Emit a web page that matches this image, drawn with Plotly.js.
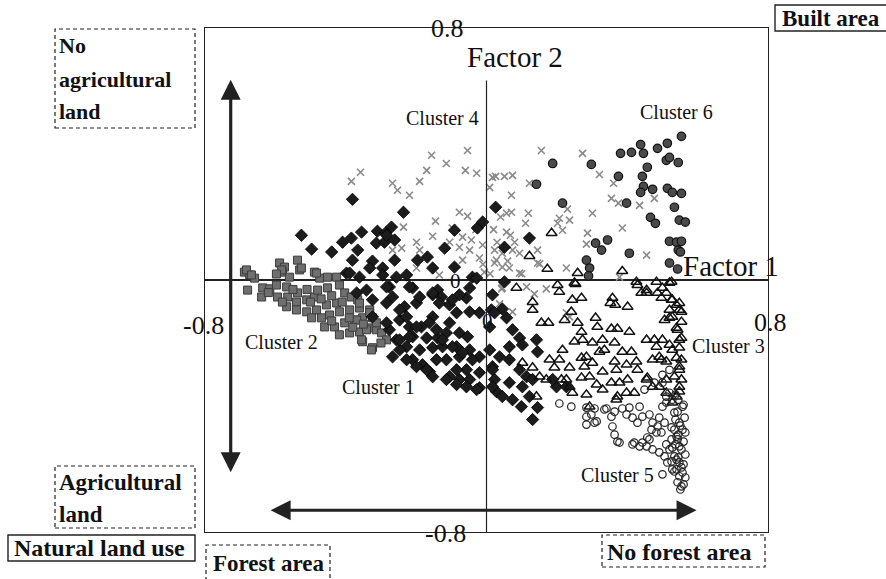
<!DOCTYPE html>
<html>
<head>
<meta charset="utf-8">
<script src="https://cdn.plot.ly/plotly-3.0.1.min.js"></script>
<style>html,body{margin:0;padding:0;background:#fff;}#chart{width:886px;height:579px;}</style>
</head>
<body>
<div id="chart"></div>
<script>
// ---- data (factor 1, factor 2) ----
const cluster1 = [[-0.381,0.256],[-0.236,0.215],[-0.526,0.142],[-0.497,0.098],[-0.44,0.089],[-0.355,0.152],[-0.31,0.155],[-0.27,0.168],[-0.287,0.149],[-0.409,0.12],[-0.384,0.133],[-0.366,0.095],[-0.313,0.117],[-0.29,0.12],[-0.261,0.127],[-0.381,0.063],[-0.324,0.06],[-0.261,0.063],[-0.227,0.016],[-0.196,0.063],[-0.168,0.073],[-0.153,0.038],[-0.119,0.101],[-0.091,0.158],[-0.026,0.165],[-0.011,0.184],[0.026,0.231],[-0.398,0.022],[-0.361,0.009],[-0.332,0.038],[-0.295,0.038],[-0.091,0.041],[-0.04,0.009],[0.122,0.133],[0.051,0.104],[-0.284,0.142],[-0.028,0.006],[-0.295,0.016],[-0.256,0.009],[-0.21,-0.025],[-0.139,-0.032],[-0.128,-0.054],[-0.153,-0.047],[-0.276,-0.022],[-0.267,-0.054],[-0.233,-0.085],[-0.199,-0.073],[-0.105,-0.079],[-0.048,-0.025],[-0.057,-0.057],[-0.077,-0.047],[-0.02,-0.104],[-0.048,-0.101],[-0.085,-0.104],[-0.153,-0.117],[-0.105,-0.136],[-0.185,-0.149],[-0.219,-0.149],[-0.247,-0.127],[-0.21,-0.18],[-0.17,-0.184],[-0.139,-0.184],[-0.114,-0.168],[-0.077,-0.168],[-0.054,-0.18],[-0.276,-0.158],[-0.256,-0.19],[-0.227,-0.212],[-0.19,-0.222],[-0.153,-0.215],[-0.125,-0.212],[-0.085,-0.212],[-0.048,-0.222],[-0.02,-0.244],[-0.114,-0.253],[-0.077,-0.244],[-0.142,-0.253],[-0.182,-0.269],[-0.21,-0.253],[-0.162,-0.291],[-0.105,-0.307],[-0.077,-0.316],[-0.048,-0.316],[-0.02,-0.342],[-0.02,-0.294],[-0.057,-0.285],[-0.085,-0.285],[0.017,-0.275],[0.023,-0.316],[0.028,-0.354],[0.009,-0.222],[0.009,-0.149],[0.014,-0.095],[0.017,-0.047],[0.051,-0.006],[-0.267,-0.244],[-0.247,-0.222],[-0.227,-0.253],[-0.199,-0.275],[-0.17,-0.285],[-0.153,-0.307],[-0.114,-0.316],[-0.085,-0.332],[-0.057,-0.339],[-0.028,-0.348],[-0.247,-0.19],[-0.219,-0.18],[-0.199,-0.149],[-0.162,-0.136],[-0.142,-0.158],[-0.125,-0.19],[-0.097,-0.212],[-0.068,-0.231],[-0.04,-0.253],[-0.284,-0.136],[-0.324,-0.117],[-0.324,-0.063],[-0.284,-0.073],[-0.369,-0.041],[-0.341,-0.032],[-0.389,0.022],[-0.284,-0.022],[-0.219,-0.022],[-0.19,-0.054],[-0.153,-0.041],[-0.134,-0.073],[-0.097,-0.063],[-0.227,-0.117],[-0.247,-0.095],[0.045,-0.092],[0.023,-0.104],[0.057,-0.12],[0.074,-0.158],[0.094,-0.184],[0.102,-0.206],[0.142,-0.19],[0.145,-0.228],[0.065,-0.212],[0.037,-0.244],[0.065,-0.253],[0.094,-0.285],[0.114,-0.307],[0.131,-0.316],[0.065,-0.326],[0.102,-0.339],[0.045,-0.37],[0.074,-0.38],[0.099,-0.402],[0.122,-0.37],[0.145,-0.405],[0.131,-0.443],[0.199,-0.339],[0.227,-0.339],[0.188,-0.316],[0.017,-0.339],[0.017,-0.285]];
const cluster2 = [[-0.688,0.025],[-0.673,0.016],[-0.659,0.006],[-0.679,-0.032],[-0.639,-0.054],[-0.636,-0.025],[-0.616,-0.028],[-0.588,0.054],[-0.574,0.041],[-0.58,0.025],[-0.56,0.009],[-0.537,0.063],[-0.531,0.032],[-0.489,0.025],[-0.474,0.006],[-0.452,0.009],[-0.426,0.009],[-0.597,-0.016],[-0.568,-0.022],[-0.594,-0.054],[-0.565,-0.054],[-0.537,-0.041],[-0.54,-0.07],[-0.511,-0.063],[-0.489,-0.054],[-0.48,-0.032],[-0.452,-0.025],[-0.418,-0.016],[-0.403,-0.041],[-0.384,-0.054],[-0.366,-0.063],[-0.568,-0.085],[-0.54,-0.095],[-0.511,-0.101],[-0.483,-0.095],[-0.455,-0.079],[-0.426,-0.073],[-0.497,-0.12],[-0.469,-0.12],[-0.446,-0.111],[-0.418,-0.101],[-0.389,-0.095],[-0.361,-0.089],[-0.332,-0.095],[-0.46,-0.149],[-0.432,-0.149],[-0.403,-0.136],[-0.375,-0.127],[-0.352,-0.12],[-0.324,-0.12],[-0.418,-0.174],[-0.389,-0.168],[-0.361,-0.165],[-0.332,-0.152],[-0.313,-0.158],[-0.352,-0.196],[-0.324,-0.215],[-0.361,-0.073],[-0.332,-0.104],[-0.313,-0.136],[-0.298,-0.168],[-0.327,-0.222],[-0.355,-0.19],[-0.284,-0.19],[-0.341,-0.158],[-0.369,-0.127],[-0.682,0.032],[-0.668,0.016],[-0.582,0.032],[-0.526,0.038],[-0.483,0.022],[-0.597,0.019],[-0.62,-0.04],[-0.55,-0.03],[-0.5,-0.07],[-0.47,-0.06],[-0.44,-0.05],[-0.41,-0.07],[-0.39,-0.12],[-0.38,-0.15],[-0.35,-0.14],[-0.3,-0.2],[-0.51,-0.03],[-0.58,-0.07],[-0.44,-0.13]];
const cluster3 = [[0.085,-0.025],[0.202,-0.016],[0.207,-0.038],[0.253,-0.013],[0.131,-0.07],[0.131,-0.095],[0.156,-0.136],[0.176,-0.136],[0.244,-0.063],[0.27,-0.057],[0.241,-0.101],[0.259,-0.136],[0.27,-0.165],[0.222,-0.127],[0.31,-0.12],[0.315,-0.149],[0.352,-0.073],[0.366,-0.079],[0.358,-0.057],[0.401,-0.085],[0.429,-0.016],[0.44,-0.041],[0.455,-0.041],[0.497,-0.057],[0.526,-0.063],[0.5,-0.025],[0.52,-0.009],[0.54,-0.079],[0.554,-0.101],[0.52,-0.12],[0.554,-0.133],[0.54,-0.152],[0.554,-0.184],[0.355,-0.155],[0.372,-0.155],[0.406,-0.165],[0.25,-0.196],[0.273,-0.19],[0.301,-0.199],[0.33,-0.19],[0.335,-0.222],[0.364,-0.199],[0.321,-0.228],[0.386,-0.228],[0.412,-0.228],[0.455,-0.19],[0.477,-0.19],[0.5,-0.19],[0.483,-0.212],[0.52,-0.206],[0.548,-0.215],[0.216,-0.222],[0.179,-0.253],[0.207,-0.253],[0.193,-0.278],[0.236,-0.278],[0.27,-0.247],[0.284,-0.244],[0.301,-0.263],[0.278,-0.275],[0.33,-0.291],[0.364,-0.259],[0.369,-0.285],[0.398,-0.269],[0.426,-0.259],[0.429,-0.285],[0.472,-0.253],[0.497,-0.253],[0.511,-0.259],[0.54,-0.247],[0.548,-0.275],[0.102,-0.263],[0.131,-0.278],[0.151,-0.307],[0.213,-0.316],[0.236,-0.339],[0.27,-0.31],[0.293,-0.307],[0.33,-0.348],[0.313,-0.332],[0.355,-0.326],[0.378,-0.326],[0.372,-0.37],[0.401,-0.316],[0.42,-0.358],[0.455,-0.316],[0.472,-0.339],[0.511,-0.316],[0.534,-0.307],[0.548,-0.339],[0.142,-0.37],[0.17,-0.316],[0.244,-0.358],[0.284,-0.364],[0.293,-0.402],[0.227,-0.316],[0.185,0.149],[0.122,0.076],[0.173,0.035],[0.259,0.022],[0.386,0.028],[0.25,-0.009],[0.426,-0.006],[0.483,-0.006],[0.526,-0.006],[0.548,-0.073],[0.548,-0.095],[0.543,-0.158],[0.548,-0.19],[0.554,-0.253],[0.548,-0.285],[0.554,-0.316],[0.548,-0.354],[0.54,-0.37],[0.528,-0.389],[0.52,-0.095],[0.506,-0.127],[0.455,-0.032],[0.486,-0.041],[0.511,-0.041],[0.528,-0.063],[0.528,-0.117],[0.528,-0.222],[0.491,-0.244],[0.457,-0.31],[0.491,-0.339],[0.511,-0.358],[0.369,-0.38],[0.398,-0.358]];
const cluster4 = [[-0.358,0.342],[-0.384,0.313],[-0.156,0.396],[-0.054,0.411],[-0.114,0.37],[-0.17,0.348],[-0.06,0.348],[-0.028,0.339],[-0.19,0.313],[-0.267,0.307],[-0.253,0.285],[-0.219,0.269],[-0.077,0.215],[-0.054,0.203],[-0.145,0.187],[-0.236,0.168],[-0.153,0.139],[-0.199,0.12],[-0.097,0.165],[-0.068,0.136],[-0.043,0.127],[-0.267,0.095],[-0.241,0.101],[-0.19,0.095],[-0.105,0.12],[-0.077,0.104],[-0.048,0.095],[-0.068,0.063],[-0.199,0.038],[-0.134,0.016],[0.017,0.326],[0.009,0.294],[-0.011,0.111],[0.028,0.063],[0.045,0.041],[0.045,-0.025],[-0.006,0.025],[0.156,0.411],[0.273,0.402],[0.321,0.335],[0.026,0.329],[0.051,0.329],[0.074,0.332],[0.071,0.269],[0.122,0.307],[0.361,0.307],[0.355,0.259],[0.375,0.244],[0.435,0.237],[0.477,0.259],[0.23,0.225],[0.301,0.212],[0.057,0.212],[0.071,0.215],[0.119,0.212],[0.111,0.18],[0.207,0.196],[0.236,0.19],[0.202,0.18],[0.216,0.158],[0.386,0.165],[0.057,0.152],[0.068,0.142],[0.287,0.149],[0.284,0.114],[0.145,0.095],[0.023,0.095],[0.045,0.085],[0.074,0.095],[0.094,0.085],[0.455,0.079],[0.145,0.054],[0.227,0.038],[0.065,0.038],[0.023,0.054],[0.378,0.009],[0.151,0.051],[0.094,0.022],[0.043,-0.028],[0.114,-0.022],[0.17,-0.028],[0.136,-0.044],[0.037,-0.076],[0.074,-0.101],[0.236,-0.117],[0.227,-0.104],[0.03,0.12],[0.06,0.06],[0.01,0.02],[-0.02,0.07],[0.08,0.12],[0.1,0.02],[-0.03,0.16],[0.04,0.2],[-0.01,0.05],[0.02,0.16]];
const cluster5 = [[0.207,-0.392],[0.241,-0.402],[0.284,-0.405],[0.307,-0.408],[0.284,-0.434],[0.313,-0.449],[0.284,-0.459],[0.335,-0.411],[0.364,-0.418],[0.386,-0.408],[0.398,-0.427],[0.415,-0.437],[0.429,-0.453],[0.443,-0.434],[0.435,-0.402],[0.463,-0.427],[0.472,-0.453],[0.469,-0.475],[0.358,-0.465],[0.364,-0.491],[0.378,-0.516],[0.42,-0.516],[0.443,-0.516],[0.457,-0.5],[0.472,-0.538],[0.491,-0.547],[0.506,-0.56],[0.511,-0.522],[0.497,-0.484],[0.506,-0.453],[0.5,-0.326],[0.52,-0.358],[0.511,-0.389],[0.534,-0.421],[0.548,-0.453],[0.557,-0.475],[0.54,-0.497],[0.548,-0.528],[0.534,-0.56],[0.548,-0.579],[0.54,-0.601],[0.548,-0.623],[0.554,-0.655],[0.5,-0.617],[0.543,-0.642],[0.528,-0.38],[0.557,-0.402],[0.526,-0.468],[0.543,-0.506],[0.528,-0.532],[0.54,-0.57],[0.554,-0.595],[0.341,-0.408],[0.355,-0.434],[0.372,-0.513],[0.415,-0.522],[0.435,-0.528],[0.455,-0.528],[0.463,-0.506],[0.514,-0.579],[0.528,-0.601],[0.483,-0.484],[0.486,-0.465],[0.491,-0.437],[0.5,-0.402],[0.511,-0.37],[0.406,-0.405],[0.298,-0.427],[0.307,-0.453],[0.537,-0.364],[0.545,-0.38],[0.56,-0.396],[0.543,-0.418],[0.563,-0.437],[0.537,-0.443],[0.551,-0.462],[0.565,-0.484],[0.545,-0.491],[0.56,-0.513],[0.537,-0.522],[0.554,-0.538],[0.565,-0.554],[0.545,-0.563],[0.56,-0.585],[0.557,-0.611],[0.565,-0.627],[0.56,-0.649],[0.551,-0.665],[0.534,-0.475],[0.526,-0.506],[0.52,-0.538],[0.526,-0.576],[0.534,-0.608],[0.52,-0.285],[0.5,-0.301],[0.477,-0.326],[0.449,-0.348]];
const cluster6 = [[0.554,0.456],[0.514,0.434],[0.486,0.418],[0.438,0.43],[0.412,0.405],[0.381,0.402],[0.446,0.402],[0.511,0.38],[0.52,0.389],[0.545,0.373],[0.188,0.37],[0.298,0.367],[0.457,0.358],[0.443,0.329],[0.375,0.329],[0.142,0.304],[0.446,0.297],[0.438,0.278],[0.472,0.288],[0.514,0.291],[0.528,0.278],[0.554,0.275],[0.398,0.244],[0.216,0.244],[0.534,0.231],[0.466,0.199],[0.48,0.18],[0.548,0.19],[0.565,0.184],[0.52,0.123],[0.54,0.12],[0.554,0.123],[0.545,0.095],[0.551,0.089],[0.344,0.127],[0.31,0.117],[0.327,0.095],[0.406,0.085],[0.284,0.063],[0.52,0.054],[0.543,0.035],[0.293,0.038],[0.29,0.013]];

const clusterNames = ["Cluster 1","Cluster 2","Cluster 3","Cluster 4","Cluster 5","Cluster 6"];
const tickVals = [-0.8, 0, 0.8];
const tickText = ["-0.8", "0", "0.8"];
const factorTitles = ["Factor 1", "Factor 2"];
const cornerLabels = ["Built area", "Natural land use", "Forest area", "No forest area", "Agricultural", "land", "No", "agricultural", "land"];

const SERIF = "Liberation Serif, Times New Roman, serif";

function tr(data, name, marker) {
  return {type: 'scatter', mode: 'markers', name: name,
    x: data.map(p => p[0]), y: data.map(p => p[1]),
    marker: marker, hoverinfo: 'x+y+name'};
}

const traces = [
  tr(cluster4, clusterNames[3], {symbol: 'x-thin-open', size: 7, color: '#8a8a8a', line: {width: 1.6, color: '#8a8a8a'}}),
  tr(cluster2, clusterNames[1], {symbol: 'square', size: 8, color: '#6f6f6f', line: {width: 1, color: '#3c3c3c'}}),
  tr(cluster1, clusterNames[0], {symbol: 'diamond', size: 9.5, color: '#1c1c1c', line: {width: 0.8, color: '#000'}}),
  tr(cluster3, clusterNames[2], {symbol: 'triangle-up-open', size: 9.5, color: '#111', line: {width: 1.5, color: '#111'}}),
  tr(cluster5, clusterNames[4], {symbol: 'circle-open', size: 7.5, color: '#222', line: {width: 1.2, color: '#222'}}),
  tr(cluster6, clusterNames[5], {symbol: 'circle', size: 8.5, color: '#4a4a4a', line: {width: 1.2, color: '#111'}})
];

// paper-coordinate helpers (plot area: x 205..768, y 28..532)
const W = 563, H = 504;
const px = v => (v - 205) / W;
const py = v => (532 - v) / H;

function box(x0, y0, x1, y1, dash) {
  return {type: 'rect', xref: 'paper', yref: 'paper', x0: px(x0), x1: px(x1), y0: py(y1), y1: py(y0),
    line: {color: '#222', width: dash ? 1.2 : 1.4, dash: dash ? '4px,3px' : 'solid'}, fillcolor: 'rgba(0,0,0,0)', layer: 'above'};
}
function label(text, x, y, size, bold, anchor) {
  return {xref: 'paper', yref: 'paper', x: px(x), y: py(y), text: bold ? '<b>' + text + '</b>' : text,
    showarrow: false, xanchor: anchor || 'left', yanchor: 'middle',
    font: {family: SERIF, size: size, color: '#111'}};
}

const shapes = [
  {type: 'line', xref: 'x', yref: 'y', x0: 0, x1: 0, y0: -0.8, y1: 0.633, line: {color: '#222', width: 1.2}},
  box(55, 29, 195, 128, true),
  box(55, 466, 195, 528, true),
  box(8, 535, 195, 561, false),
  box(206, 545, 330, 580, true),
  box(602, 535, 765, 567, true),
  box(775, 5, 892, 31, false)
];

const annotations = [
  // axis tick labels (placed next to the axes, as in the original)
  label(tickText[0], 203, 325, 26, false, 'center'),
  label(tickText[1], 488, 321, 21, false, 'center'),
  label(tickText[2], 770, 323, 26, false, 'center'),
  label(tickText[2], 466, 29, 26, false, 'right'),
  label(tickText[1], 463, 281, 21, false, 'right'),
  label(tickText[0], 468, 533, 26, false, 'right'),
  // factor titles
  label(factorTitles[1], 515, 57, 29, false, 'center'),
  label(factorTitles[0], 731, 266, 29, false, 'center'),
  // cluster labels
  label(clusterNames[3], 442, 118, 20, false, 'center'),
  label(clusterNames[5], 676, 112, 20, false, 'center'),
  label(clusterNames[1], 281, 342, 20, false, 'center'),
  label(clusterNames[0], 378, 387, 20, false, 'center'),
  label(clusterNames[2], 728, 346, 20, false, 'center'),
  label(clusterNames[4], 617, 475, 20, false, 'center'),
  // corner boxes
  label(cornerLabels[6], 57, 45, 22, true),
  label(cornerLabels[7], 57, 80, 22, true),
  label(cornerLabels[8], 57, 112, 22, true),
  label(cornerLabels[4], 57, 482, 23, true),
  label(cornerLabels[5], 57, 514, 23, true),
  label(cornerLabels[1], 12, 548, 24, true),
  label(cornerLabels[2], 211, 563, 23, true),
  label(cornerLabels[3], 605, 552, 24, true),
  label(cornerLabels[0], 780, 18, 23, true),
  // double-headed arrows
  {xref: 'x', yref: 'y', axref: 'x', ayref: 'y', x: -0.727, y: 0.636, ax: -0.727, ay: -0.642, text: ' ', showarrow: true,
    arrowhead: 2, startarrowhead: 2, arrowside: 'end+start', arrowsize: 1.25, startarrowsize: 1.25, arrowwidth: 3.2, arrowcolor: '#222', standoff: 0, startstandoff: 0},
  {xref: 'x', yref: 'y', axref: 'x', ayref: 'y', x: 0.597, y: -0.731, ax: -0.622, ay: -0.731, text: ' ', showarrow: true,
    arrowhead: 2, startarrowhead: 2, arrowside: 'end+start', arrowsize: 1.25, startarrowsize: 1.25, arrowwidth: 3.2, arrowcolor: '#222', standoff: 0, startstandoff: 0}
];

const layout = {
  width: 886, height: 579,
  margin: {l: 205, r: 118, t: 28, b: 47, pad: 0},
  paper_bgcolor: '#fff', plot_bgcolor: '#fff',
  showlegend: false,
  xaxis: {range: [-0.8, 0.8], showgrid: false, zeroline: false, showticklabels: false, ticks: '',
    showline: true, mirror: true, linecolor: '#222', linewidth: 1.3, fixedrange: true},
  yaxis: {range: [-0.8, 0.8], showgrid: false, zeroline: true, zerolinecolor: '#222', zerolinewidth: 1.2,
    showticklabels: false, ticks: '', showline: true, mirror: true, linecolor: '#222', linewidth: 1.3, fixedrange: true},
  shapes: shapes,
  annotations: annotations
};

Plotly.newPlot('chart', traces, layout, {displayModeBar: false, staticPlot: true});
</script>
</body>
</html>
